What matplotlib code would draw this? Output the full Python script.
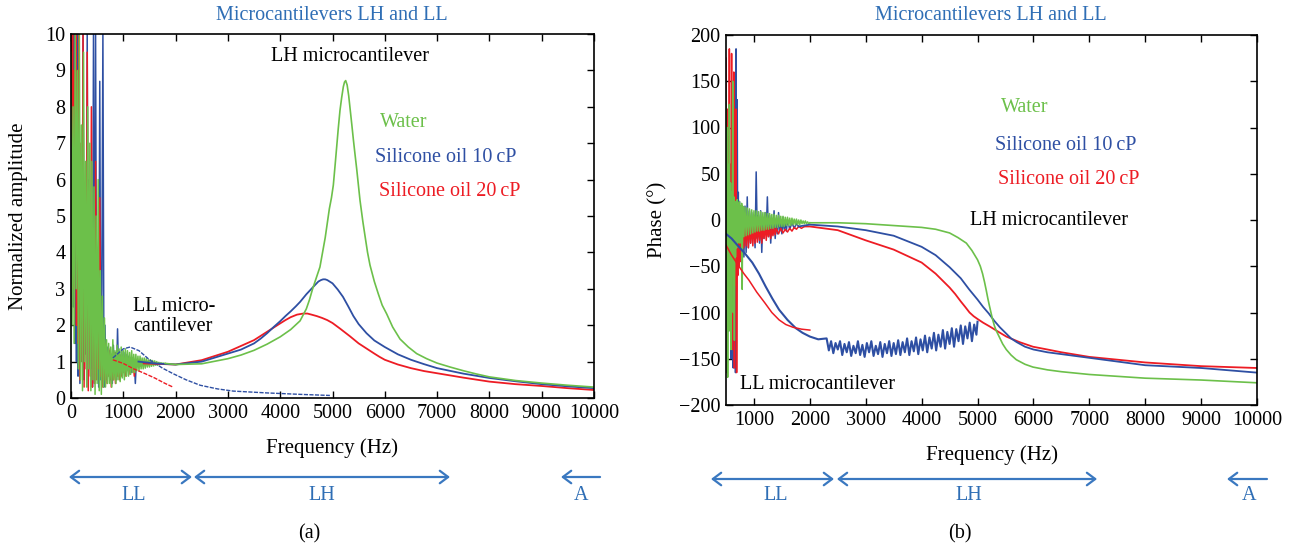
import matplotlib
matplotlib.use('Agg')
import matplotlib.pyplot as plt

plt.rcParams['font.family'] = ['Liberation Serif', 'DejaVu Serif']
plt.rcParams['font.size'] = 14.5

GREEN = '#6cc04a'
BLUE = '#2e4fa3'
RED = '#ed1c24'
TBLUE = '#2f6eb5'

# ---------------- (a) amplitude ----------------
# low-frequency noisy part
amp_green_noise_f = [0, 20, 40, 60, 80, 100, 120, 140, 160, 180, 200, 220, 240, 260, 280, 300, 320, 340, 360, 380,
                     400, 420, 440, 460, 480, 500, 520, 540, 560, 580, 600, 620, 640, 660, 680, 700,
                     720, 740, 760, 780, 800, 820, 840, 860, 880, 900, 920, 940, 960, 980, 1000, 1020, 1040, 1060,
                     1080, 1100, 1120, 1140, 1160, 1180, 1200, 1220, 1240, 1260, 1280, 1300, 1320, 1340, 1360, 1380,
                     1400, 1420, 1440, 1460, 1480, 1500, 1520, 1540, 1560, 1580, 1600, 1620, 1640, 1660, 1680, 1700,
                     1720, 1740, 1760, 1780, 1800]
amp_green_noise = [9.5, 2.0, 8.0, 1.5, 10, 3.0, 9.0, 0.8, 10, 0.5, 7.5, 0.2, 9.5, 1.0, 6.5, 0.3, 8.0, 0.8, 7.0, 0.2,
                   6.5, 0.5, 5.8, 0.1, 5.0, 0.4, 6.0, 0.2, 3.5, 0.1, 2.8, 0.3, 2.2, 0.3, 1.6, 0.4,
                   1.5, 0.4, 1.4, 0.3, 1.6, 0.5, 1.3, 0.4, 1.45, 0.5, 1.35, 0.45, 1.4, 0.55, 1.3, 0.5, 1.35, 0.6,
                   1.3, 0.6, 1.25, 0.65, 1.3, 0.7, 1.2, 0.7, 1.2, 0.75, 1.15, 0.75, 1.15, 0.8, 1.1, 0.8,
                   1.1, 0.82, 1.08, 0.85, 1.05, 0.85, 1.05, 0.87, 1.03, 0.88, 1.02, 0.9, 1.0, 0.9, 0.98, 0.92,
                   0.97, 0.93, 0.96, 0.94, 0.95]

amp_blue_noise_f = [0, 15, 30, 45, 60, 75, 90, 105, 120, 135, 150, 170, 190, 210, 230, 250, 270, 290, 310, 330,
                    350, 370, 390, 410, 430, 450, 470, 490, 510, 530, 550, 570, 590, 610, 630, 650, 670, 690,
                    710, 730, 750, 770, 790, 810, 830, 850, 870, 890, 910, 930, 950, 970, 990, 1010, 1030, 1050,
                    1070, 1090, 1110, 1130, 1150, 1170, 1190, 1210, 1230, 1250, 1270, 1290]
amp_blue_noise = [10, 5, 9, 2.5, 10, 1.5, 7, 1.0, 10, 0.6, 4, 0.4, 3, 1.0, 10, 0.5, 4.5, 1.2, 10, 0.3,
                  6.0, 0.8, 3.2, 0.3, 10, 0.4, 10, 0.6, 4.0, 0.3, 8.7, 0.5, 3.0, 10, 0.3, 2.0, 0.5, 1.4,
                  0.6, 1.3, 0.5, 1.2, 0.4, 1.45, 0.7, 1.25, 0.5, 1.9, 0.6, 1.2, 0.8, 1.3, 0.7, 1.25, 0.8, 1.2,
                  0.85, 1.15, 0.8, 1.1, 0.7, 1.1, 0.9, 1.05, 0.4, 1.02, 0.95, 1.0]

amp_red_noise_f = [0, 15, 30, 45, 60, 75, 90, 105, 120, 135, 150, 170, 190, 210, 230, 250, 270, 290, 310, 330,
                   350, 370, 390, 410, 430, 450, 470, 490, 510, 530, 550, 570, 590,
                   610, 630, 650, 670, 690, 710, 730, 750, 770, 790, 810, 830, 850, 870, 890, 910, 930, 950, 970,
                   990, 1010, 1030, 1050, 1070, 1090, 1110, 1130, 1150, 1170, 1190, 1210, 1230, 1250, 1270, 1290,
                   1310, 1330, 1350, 1370, 1390]
amp_red_noise = [10, 6, 10, 3, 9, 4.5, 10, 2, 8, 1.5, 10, 0.5, 7, 1.0, 10, 0.3, 5.5, 0.8, 9.5, 0.2,
                 5.0, 0.6, 8.0, 0.3, 4.0, 0.4, 6.5, 0.5, 3.0, 0.8, 5.5, 0.6, 2.2,
                 0.3, 1.3, 0.5, 1.5, 0.4, 1.2, 0.6, 1.35, 0.3, 1.2, 0.5, 1.25, 0.4, 1.1, 0.6, 1.2, 0.5, 1.15, 0.6,
                 1.1, 0.7, 1.05, 0.6, 1.1, 0.75, 1.05, 0.65, 1.0, 0.8, 1.0, 0.6, 0.95, 0.85, 1.0, 0.9,
                 0.97, 0.88, 0.96, 0.92, 0.95]

# LH microcantilever response
amp_green_f = [1800, 2000, 2500, 3000, 3250, 3500, 3750, 4000, 4200, 4380, 4500, 4560, 4620, 4690, 4760, 4810,
               4860, 4900, 4940, 4980, 5016, 5050, 5080, 5110, 5143, 5175, 5207, 5230, 5252, 5280, 5310, 5340,
               5370, 5399, 5430, 5462, 5526, 5580, 5622, 5670, 5717, 5800, 5876, 5950, 6036, 6150, 6291, 6450,
               6609, 6800, 6998, 7250, 7500, 7750, 8000, 8500, 9000, 9500, 10000]
amp_green = [0.95, 0.92, 0.94, 1.08, 1.18, 1.31, 1.48, 1.68, 1.88, 2.12, 2.45, 2.7, 3.0, 3.3, 3.6, 4.0,
             4.4, 4.8, 5.2, 5.5, 5.85, 6.4, 6.9, 7.4, 7.9, 8.25, 8.55, 8.68, 8.72, 8.6, 8.3, 7.9,
             7.5, 7.1, 6.7, 6.3, 5.43, 4.85, 4.45, 4.0, 3.65, 3.2, 2.86, 2.55, 2.31, 1.95, 1.62, 1.4,
             1.22, 1.08, 0.96, 0.85, 0.75, 0.66, 0.58, 0.48, 0.41, 0.35, 0.30]
amp_blue_f = [1290, 1600, 2000, 2500, 3000, 3250, 3500, 3625, 3750, 3875, 4000, 4100, 4200, 4300, 4380, 4500,
              4630, 4730, 4780, 4820, 4860, 4900, 5000, 5100, 5200, 5300, 5400, 5500, 5650, 5800, 6000, 6250,
              6500, 6750, 7000, 7500, 8000, 8500, 9000, 9500, 10000]
amp_blue = [1.0, 0.95, 0.92, 1.0, 1.22, 1.33, 1.5, 1.63, 1.78, 1.95, 2.11, 2.25, 2.38, 2.52, 2.64, 2.85,
            3.05, 3.2, 3.24, 3.26, 3.26, 3.24, 3.15, 2.98, 2.78, 2.52, 2.25, 2.03, 1.78, 1.58, 1.4, 1.2,
            1.05, 0.93, 0.82, 0.67, 0.55, 0.46, 0.38, 0.32, 0.27]
amp_red_f = [1390, 2000, 2500, 3000, 3500, 3750, 4000, 4100, 4200, 4320, 4440, 4520, 4600, 4700, 4800, 4900,
             5000, 5150, 5330, 5500, 5650, 5800, 5900, 6000, 6250, 6500, 6750, 7000, 7500, 8000, 8500, 9000,
             9500, 10000]
amp_red = [0.95, 0.92, 1.04, 1.27, 1.59, 1.82, 2.05, 2.14, 2.22, 2.29, 2.32, 2.32, 2.29, 2.25, 2.2, 2.14,
           2.06, 1.9, 1.7, 1.5, 1.36, 1.22, 1.13, 1.05, 0.92, 0.82, 0.74, 0.68, 0.56, 0.45, 0.38, 0.33,
           0.27, 0.22]

# LL microcantilever response
amp_ll_blue_f = [800, 1000, 1130, 1300, 1500, 1750, 1950, 2200, 2470, 2800, 3100, 3740, 4380, 4950]
amp_ll_blue = [1.1, 1.35, 1.4, 1.3, 1.05, 0.82, 0.67, 0.5, 0.35, 0.25, 0.19, 0.14, 0.10, 0.07]
amp_ll_red_f = [800, 1000, 1200, 1400, 1600, 1800, 1950]
amp_ll_red = [1.05, 0.95, 0.8, 0.68, 0.55, 0.4, 0.3]

# ---------------- (b) phase ----------------
ph_green_noise_f = [500, 510, 520, 530, 540, 550, 560, 570, 580, 590, 600, 610, 620, 630, 640, 650, 660, 670, 680,
                    690, 700, 710, 720, 730, 740, 750, 760, 770, 780, 790, 800,
                    820, 840, 860, 880, 900, 920, 940, 960, 980, 1000, 1020, 1040, 1060, 1080, 1100, 1120, 1140,
                    1160, 1180, 1200, 1220, 1240, 1260, 1280, 1300, 1320, 1340, 1360, 1380, 1400, 1420, 1440, 1460,
                    1480, 1500, 1520, 1540, 1560, 1580, 1600, 1620, 1640, 1660, 1680, 1700, 1720, 1740, 1760, 1780,
                    1800, 1820, 1840, 1860, 1880, 1900, 1920, 1940, 1960, 1980, 2000]
ph_green_noise = [140, -165, 100, -170, 60, -120, 125, -90, 40, -140, 30, -60, 150, -100, 25, -130, 20, -40, 15,
                  -30, 22, -25, 18, -20, 20, -25, 15, -20, 18, -75, 15,
                  -18, 14, -17, 13, -16, 12, -15, 11, -14, 10, -13, 10, -12, 9, -12, 9, -11,
                  8, -11, 8, -10, 7, -10, 7, -9, 6, -9, 6, -8, 5, -8, 5, -7,
                  4, -7, 4, -7, 3, -6, 3, -6, 2, -6, 2, -5, 1, -5, 1, -5,
                  0, -5, 0, -4, -1, -4, -1, -4, -2, -4, -3]

ph_blue_noise_f = [500, 510, 520, 530, 540, 550, 560, 570, 580, 590, 600, 610, 620, 630, 640, 650, 660, 670, 680,
                   690, 700, 710, 720, 730, 740, 750, 760, 770, 780, 790, 800,
                   820, 840, 860, 880, 900, 920, 940, 960, 980, 1000, 1020, 1040, 1060, 1080, 1100, 1120, 1140,
                   1160, 1180, 1200, 1220, 1240, 1260, 1280, 1300, 1320, 1340, 1360, 1380, 1400, 1420, 1440, 1460,
                   1480, 1500, 1520, 1540, 1560, 1580, 1600, 1640, 1680, 1720, 1760, 1800]
ph_blue_noise = [60, -20, 110, -60, 40, -120, 20, -80, 30, -150, 10, -100, 25, -160, -5, -120, 15, -165, 185,
                 -60, 130, -40, 30, -50, 20, -30, 15, -45, 10, -30, 5,
                 -40, 15, -35, 25, -30, 10, -25, 8, -20, 5, -30, 52, -20, 5, -25, 10, -35,
                 3, -20, 8, -15, 25, -18, 5, -25, 2, -15, 10, -20, 0, -15, 8, -12,
                 -2, -15, 3, -10, -3, -12, 0, -10, -3, -9, -4, -7]

ph_red_noise_f = [500, 510, 520, 530, 540, 550, 560, 570, 580, 590, 600, 610, 620, 630, 640, 650, 660, 670, 680,
                  690, 700, 710, 720, 730, 740, 750, 760, 770, 780, 790, 800,
                  820, 840, 860, 880, 900, 920, 940, 960, 980, 1000, 1020, 1040, 1060, 1080, 1100, 1120, 1140,
                  1160, 1180, 1200, 1220, 1240, 1260, 1280, 1300, 1320, 1340, 1360, 1380, 1400, 1440, 1480, 1520,
                  1560, 1600, 1640, 1680, 1720, 1760, 1800, 1850, 1900]
ph_red_noise = [175, -30, 120, -80, 90, -50, 185, -100, 60, -120, 180, -140, 40, -90, 160, -160, 20, -70, 120,
                -165, -20, -60, -5, -50, 0, -40, -10, -45, -5, -35, -10,
                -30, 0, -28, -2, -30, -3, -25, -5, -28, -5, -25, -3, -24, -6, -22, -4, -25,
                -8, -20, -6, -22, -8, -18, -7, -20, -9, -17, -8, -16, -9, -15, -9, -14,
                -10, -13, -9, -12, -8, -10, -7, -9, -7]

ph_green_f = [2000, 2500, 3000, 3500, 4000, 4250, 4500, 4650, 4800, 4900, 5000, 5050, 5090, 5125, 5156, 5185,
              5210, 5263, 5300, 5330, 5394, 5450, 5514, 5600, 5693, 5850, 5992, 6250, 6500, 7000, 7500, 8000,
              9000, 10000]
ph_green = [-3, -3, -4, -6, -8, -10, -14, -19, -25, -33, -43, -50, -58, -67, -76, -85,
            -92, -106, -114, -119, -127, -134, -140, -146, -151, -156, -159, -162, -164, -167, -169, -171,
            -173, -176]
ph_blue_f = [1800, 2000, 2500, 3000, 3500, 4000, 4250, 4500, 4700, 4850, 5000, 5100, 5200, 5300, 5400, 5500,
             5600, 5700, 5850, 6000, 6250, 6500, 7000, 7500, 8000, 9000, 10000]
ph_blue = [-7, -5, -7, -11, -17, -29, -38, -51, -63, -75, -86, -94, -101, -109, -116, -122,
           -128, -132, -137, -140, -143, -145, -149, -153, -157, -160, -165]
ph_red_f = [1900, 2000, 2500, 3000, 3500, 3750, 4000, 4250, 4500, 4600, 4700, 4780, 4857, 4930, 5000, 5100,
            5215, 5350, 5514, 5750, 5992, 6250, 6500, 7000, 7500, 8000, 9000, 10000]
ph_red = [-7, -7, -11, -22, -32, -39, -46, -58, -73, -80, -88, -94, -100, -104, -107, -111,
          -115, -120, -126, -132, -137, -140, -143, -148, -151, -154, -158, -160]

ph_ll_blue_f = [480, 600, 730, 850, 970, 1090, 1210, 1330, 1450, 1600, 1750, 1870, 2000, 2150,
                2300, 2340, 2380, 2420, 2460, 2500, 2540, 2580, 2620, 2660, 2700, 2740, 2780, 2820, 2860, 2900,
                2940, 2980, 3020, 3060, 3100, 3140, 3180, 3220, 3260, 3300, 3340, 3380, 3420, 3460, 3500, 3540,
                3580, 3620, 3660, 3700, 3740, 3780, 3820, 3860, 3900, 3940, 3980, 4020, 4060, 4100, 4140, 4180,
                4220, 4260, 4300, 4340, 4380, 4420, 4460, 4500, 4540, 4580, 4620, 4660, 4700, 4740, 4780, 4820,
                4860, 4900, 4940, 4980, 5000]
ph_ll_blue = [-14, -20, -29, -37, -46, -58, -72, -85, -97, -108, -117, -122, -126, -129,
              -128, -141, -131, -144, -133, -140, -131, -146, -134, -143, -132, -147, -136, -144, -131, -146,
              -135, -148, -133, -143, -131, -147, -136, -145, -132, -148, -134, -144, -131, -147, -133, -145,
              -130, -146, -132, -143, -128, -146, -131, -142, -127, -145, -129, -141, -125, -143, -127, -139,
              -122, -141, -124, -137, -119, -139, -121, -134, -117, -137, -118, -131, -114, -134, -115, -128,
              -111, -131, -113, -124, -110]
ph_ll_red_f = [480, 600, 730, 820, 910, 1050, 1200, 1320, 1450, 1570, 1700, 1850, 2000]
ph_ll_red = [-25, -38, -50, -58, -65, -78, -90, -100, -108, -113, -116, -118, -119]


def style_axes(ax):
    ax.tick_params(direction='in', top=True, right=True, length=5, width=1, labelsize=14.5, pad=4)
    for s in ax.spines.values():
        s.set_linewidth(1.2)


def arrows(fig, segs, labels, ylab):
    # segs: (x0, x1, y, style) in figure fraction
    for x0, x1, y, st in segs:
        fig.add_artist(matplotlib.patches.FancyArrowPatch(
            (x0, y), (x1, y), transform=fig.transFigure, arrowstyle=st + ',head_length=6,head_width=4.5',
            color='#3a78c0', lw=1.6, shrinkA=0, shrinkB=0))
    for x, t in labels:
        fig.text(x, ylab, t, color=TBLUE, ha='center', va='center', fontsize=14.5)


fig = plt.figure(figsize=(12.96, 5.48), dpi=100)

# ---- panel (a)
ax1 = fig.add_axes([71 / 1296, 1 - 398 / 548, 523 / 1296, 364 / 548])
lw = 1.1
ax1.plot(amp_blue_noise_f, amp_blue_noise, color=BLUE, lw=lw)
ax1.plot(amp_red_noise_f, amp_red_noise, color=RED, lw=lw)
ax1.plot(amp_green_noise_f, amp_green_noise, color=GREEN, lw=lw)
ax1.plot(amp_ll_blue_f, amp_ll_blue, color=BLUE, lw=1.0, dashes=(3, 1))
ax1.plot(amp_ll_red_f, amp_ll_red, color=RED, lw=1.0, dashes=(3, 1))
ax1.plot(amp_red_f, amp_red, color=RED, lw=1.3)
ax1.plot(amp_blue_f, amp_blue, color=BLUE, lw=1.3)
ax1.plot(amp_green_f, amp_green, color=GREEN, lw=1.2)
ax1.set_xlim(0, 10000)
ax1.set_ylim(0, 10)
ax1.set_xticks(range(0, 10001, 1000))
ax1.set_yticks(range(0, 11))
ax1.set_xlabel('Frequency (Hz)', fontsize=15, va='center')
ax1.set_ylabel('Normalized amplitude', fontsize=15, va='center')
ax1.xaxis.set_label_coords(0.5, -0.137)
ax1.yaxis.set_label_coords(-0.101, 0.5)
style_axes(ax1)
ax1.text(5335, 9.37, 'LH microcantilever', ha='center', va='center', fontsize=14.5)
ax1.text(6367, 7.58, 'Water', color=GREEN, ha='center', va='center', fontsize=14.5)
ax1.text(7170, 6.62, 'Silicone oil 10\u2009cP', color=BLUE, ha='center', va='center', fontsize=14.5)
ax1.text(7247, 5.66, 'Silicone oil 20\u2009cP', color=RED, ha='center', va='center', fontsize=14.5)
ax1.text(1185, 2.24, 'LL micro-\ncantilever', ha='left', va='center', fontsize=14.5, linespacing=1.1)
fig.text(332 / 1296, 1 - 15 / 548, 'Microcantilevers LH and LL', color=TBLUE, ha='center', va='center',
         fontsize=14.5)

# ---- panel (b)
ax2 = fig.add_axes([726 / 1296, 1 - 405 / 548, 531 / 1296, 370 / 548])
ax2.plot(ph_blue_noise_f, ph_blue_noise, color=BLUE, lw=lw)
ax2.plot(ph_red_noise_f, ph_red_noise, color=RED, lw=lw)
ax2.plot(ph_green_noise_f, ph_green_noise, color=GREEN, lw=lw)
ax2.plot(ph_ll_blue_f, ph_ll_blue, color=BLUE, lw=1.5)
ax2.plot(ph_ll_red_f, ph_ll_red, color=RED, lw=1.1)
ax2.plot(ph_red_f, ph_red, color=RED, lw=1.3)
ax2.plot(ph_blue_f, ph_blue, color=BLUE, lw=1.3)
ax2.plot(ph_green_f, ph_green, color=GREEN, lw=1.2)
ax2.set_xlim(500, 10000)
ax2.set_ylim(-200, 200)
ax2.set_xticks(range(1000, 10001, 1000))
ax2.set_yticks(range(-200, 201, 50))
ax2.set_xlabel('Frequency (Hz)', fontsize=15, va='center')
ax2.set_ylabel('Phase (\u00b0)', fontsize=15, va='center')
ax2.xaxis.set_label_coords(0.5, -0.135)
ax2.yaxis.set_label_coords(-0.128, 0.5)
style_axes(ax2)
ax2.text(5842, 122, 'Water', color=GREEN, ha='center', va='center', fontsize=14.5)
ax2.text(6577, 81, 'Silicone oil 10\u2009cP', color=BLUE, ha='center', va='center', fontsize=14.5)
ax2.text(6631, 44, 'Silicone oil 20\u2009cP', color=RED, ha='center', va='center', fontsize=14.5)
ax2.text(6272, -1, 'LH microcantilever', ha='center', va='center', fontsize=14.5)
ax2.text(2133, -178, 'LL microcantilever', ha='center', va='center', fontsize=14.5)
fig.text(991 / 1296, 1 - 15 / 548, 'Microcantilevers LH and LL', color=TBLUE, ha='center', va='center',
         fontsize=14.5)

# ---- frequency range markers below the axes
ya = 1 - 477 / 548
arrows(fig, [(0.0532, 0.1481, ya, '<->'), (0.1497, 0.3472, ya, '<->'), (0.4630, 0.4329, ya, '->')],
       [(0.1034, 'LL'), (0.2485, 'LH'), (0.4483, 'A')], 1 - 495 / 548)
yb = 1 - 479 / 548
arrows(fig, [(0.5486, 0.6435, yb, '<->'), (0.6458, 0.8465, yb, '<->'), (0.9776, 0.9468, yb, '->')],
       [(0.5988, 'LL'), (0.7477, 'LH'), (0.9637, 'A')], 1 - 495 / 548)
fig.text(309 / 1296, 1 - 534 / 548, '(a)', ha='center', va='center', fontsize=14.5)
fig.text(960 / 1296, 1 - 534 / 548, '(b)', ha='center', va='center', fontsize=14.5)

fig.savefig('out.png', dpi=100)
